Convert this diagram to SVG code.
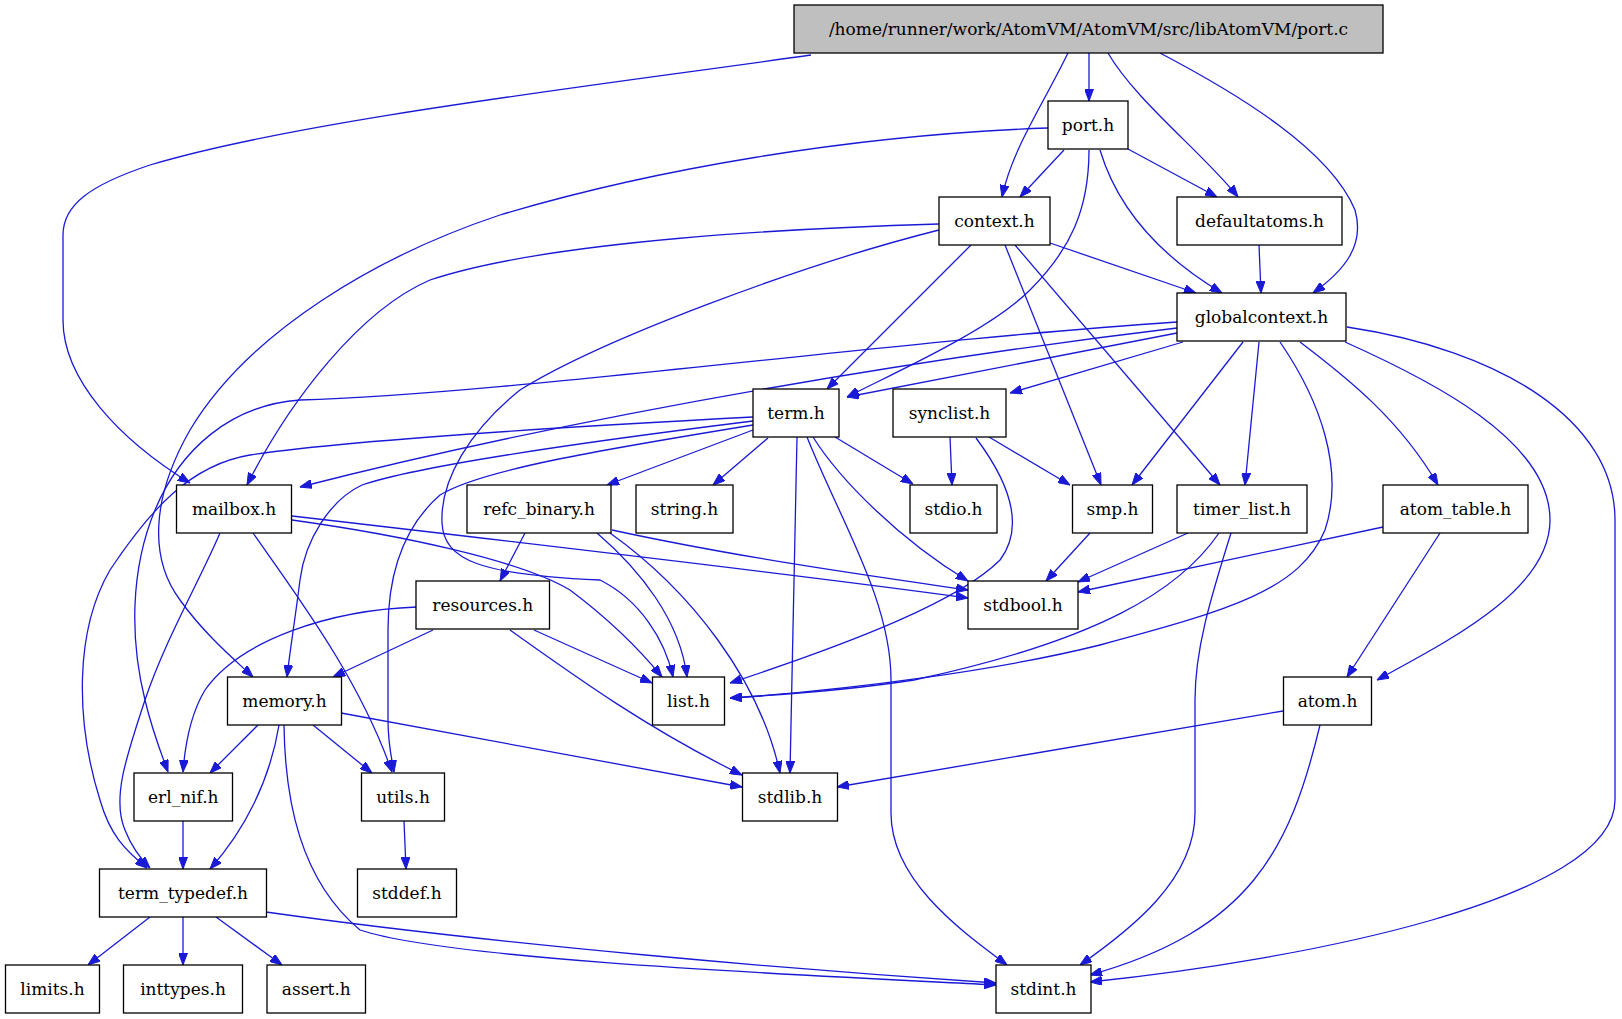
<svg xmlns="http://www.w3.org/2000/svg" width="1622" height="1019" viewBox="0 0 1622 1019">
<style>
.n rect{fill:#fff;stroke:#000;stroke-width:1.3}
.n text{font-family:"DejaVu Serif",serif;font-size:17px;text-anchor:middle;fill:#000}
.e path{fill:none;stroke:#1a1ad6;stroke-width:1.3;marker-end:url(#a)}
</style>
<defs>
<marker id="a" markerWidth="12" markerHeight="9" refX="12" refY="4.5" orient="auto" markerUnits="userSpaceOnUse"><path d="M0,0 L12,4.5 L0,9 z" fill="#1a1ad6" stroke="#1a1ad6" stroke-width="1"/></marker>
</defs>
<rect width="1622" height="1019" fill="#fff"/>
<g id="edges" class="e">
<path d="M811,55 C600,85 300,120 150,165 C90,185 63,205 63,235 L63,320 C63,380 120,440 190,483"/>
<path d="M1068,53 C1040,110 1012,150 1002,197"/>
<path d="M1089,53 L1089,101"/>
<path d="M1108,53 C1135,100 1205,155 1238,197"/>
<path d="M1160,53 C1240,95 1330,150 1355,210 C1365,245 1345,270 1313,293"/>
<path d="M1064,150 L1020,197"/>
<path d="M1128,149 L1217,197"/>
<path d="M1100,150 C1115,200 1150,250 1222,293"/>
<path d="M1089,150 C1089,210 1070,250 1030,290 C990,330 900,370 847,397"/>
<path d="M1048,128 C850,135 650,170 500,215 C380,255 250,330 190,430 C150,500 150,560 180,600 C205,635 235,660 253,677"/>
<path d="M939,224 C800,228 550,240 430,280 C360,310 290,400 247,485"/>
<path d="M939,230 C800,265 600,340 520,390 C470,430 440,480 442,523 C444,560 480,575 600,580 C640,600 665,640 673,677"/>
<path d="M971,245 L827,389"/>
<path d="M1005,245 L1101,485"/>
<path d="M1015,245 L1220,485"/>
<path d="M1050,243 L1196,293"/>
<path d="M1259,245 L1261,293"/>
<path d="M1177,322 C900,340 500,395 300,400 C230,405 180,450 155,510 C130,570 130,640 145,700 C152,730 160,750 168,772"/>
<path d="M1177,328 C950,355 600,410 300,487"/>
<path d="M1177,333 L847,397"/>
<path d="M1183,342 L1010,393"/>
<path d="M1243,342 L1132,485"/>
<path d="M1259,342 L1245,485"/>
<path d="M1280,342 C1320,400 1345,470 1325,530 C1300,590 1230,610 1100,645 C1000,670 850,690 730,698"/>
<path d="M1300,342 C1350,380 1400,420 1438,485"/>
<path d="M1345,342 C1430,380 1550,440 1550,520 C1550,590 1450,640 1377,680"/>
<path d="M1347,327 C1500,350 1615,420 1615,520 L1615,800 C1615,900 1300,960 1090,982"/>
<path d="M753,417 C600,425 350,440 250,455 C190,465 150,510 110,570 C75,630 75,720 100,800 C110,835 125,850 147,868"/>
<path d="M753,421 C600,440 420,465 362,485 C330,500 305,540 300,580 C295,620 290,650 287,677"/>
<path d="M753,425 C600,450 480,470 440,495 C400,530 388,580 388,630 L388,720 C388,745 392,760 394,772"/>
<path d="M753,430 L607,485"/>
<path d="M768,438 L713,485"/>
<path d="M835,437 L913,484"/>
<path d="M813,437 C840,480 900,540 968,581"/>
<path d="M797,437 L790,773"/>
<path d="M807,437 C840,520 891,600 891,680 L891,813 C891,880 960,930 1007,965"/>
<path d="M950,437 L952,485"/>
<path d="M989,437 L1070,485"/>
<path d="M976,438 C1000,470 1030,520 1000,560 C960,600 860,640 730,683"/>
<path d="M292,520 C400,535 520,560 570,590 C610,620 640,650 662,677"/>
<path d="M292,516 C500,540 800,575 968,598"/>
<path d="M220,533 C200,580 165,640 145,700 C125,760 112,800 125,830 C132,848 140,858 150,868"/>
<path d="M253,533 C300,600 360,680 392,772"/>
<path d="M525,533 L500,581"/>
<path d="M597,533 C640,570 680,620 687,677"/>
<path d="M610,533 C690,590 760,680 780,773"/>
<path d="M612,530 C750,560 900,580 968,590"/>
<path d="M433,630 L333,677"/>
<path d="M417,607 C330,610 240,640 205,690 C190,715 185,745 183,772"/>
<path d="M534,630 L652,683"/>
<path d="M510,630 C580,680 650,730 742,775"/>
<path d="M1090,533 L1046,581"/>
<path d="M1188,533 L1078,582"/>
<path d="M1219,533 C1180,590 1100,640 914,680 C850,690 780,695 730,698"/>
<path d="M1231,533 C1210,600 1195,650 1195,700 L1195,813 C1195,880 1130,930 1080,965"/>
<path d="M1383,527 L1078,592"/>
<path d="M1440,533 L1347,677"/>
<path d="M1283,711 L837,787"/>
<path d="M1320,725 C1290,850 1250,930 1090,975"/>
<path d="M258,725 L210,773"/>
<path d="M279,725 C270,780 245,830 210,869"/>
<path d="M313,725 L372,773"/>
<path d="M341,713 L742,787"/>
<path d="M284,725 C285,800 300,880 360,930 C450,960 800,975 996,985"/>
<path d="M183,821 L183,869"/>
<path d="M404,821 L406,869"/>
<path d="M150,917 L88,965"/>
<path d="M183,917 L183,965"/>
<path d="M216,917 L282,965"/>
<path d="M266,912 C500,945 800,970 996,983"/>
</g>
<g id="port_c" class="n"><rect x="794" y="5" width="589" height="48" style="fill:#bfbfbf"/><text x="1088.5" y="34.7">/home/runner/work/AtomVM/AtomVM/src/libAtomVM/port.c</text></g>
<g id="port_h" class="n"><rect x="1048" y="101" width="80" height="48"/><text x="1088" y="130.7">port.h</text></g>
<g id="context_h" class="n"><rect x="939" y="197" width="111" height="48"/><text x="994.5" y="226.7">context.h</text></g>
<g id="defaultatoms_h" class="n"><rect x="1177" y="197" width="165" height="48"/><text x="1259.5" y="226.7">defaultatoms.h</text></g>
<g id="globalcontext_h" class="n"><rect x="1177" y="293" width="169" height="48"/><text x="1261.5" y="322.7">globalcontext.h</text></g>
<g id="term_h" class="n"><rect x="753" y="389" width="86" height="48"/><text x="796" y="418.7">term.h</text></g>
<g id="synclist_h" class="n"><rect x="893" y="389" width="113" height="48"/><text x="949.5" y="418.7">synclist.h</text></g>
<g id="mailbox_h" class="n"><rect x="176.5" y="485" width="115" height="48"/><text x="234" y="514.7">mailbox.h</text></g>
<g id="refc_binary_h" class="n"><rect x="467" y="485" width="144" height="48"/><text x="539" y="514.7">refc_binary.h</text></g>
<g id="string_h" class="n"><rect x="636" y="485" width="97" height="48"/><text x="684.5" y="514.7">string.h</text></g>
<g id="stdio_h" class="n"><rect x="910" y="485" width="87" height="48"/><text x="953.5" y="514.7">stdio.h</text></g>
<g id="smp_h" class="n"><rect x="1072.5" y="485" width="80" height="48"/><text x="1112.5" y="514.7">smp.h</text></g>
<g id="timer_list_h" class="n"><rect x="1177" y="485" width="130" height="48"/><text x="1242" y="514.7">timer_list.h</text></g>
<g id="atom_table_h" class="n"><rect x="1383" y="485" width="145" height="48"/><text x="1455.5" y="514.7">atom_table.h</text></g>
<g id="resources_h" class="n"><rect x="416" y="581" width="133.5" height="48"/><text x="482.8" y="610.7">resources.h</text></g>
<g id="stdbool_h" class="n"><rect x="968" y="581" width="110" height="48"/><text x="1023" y="610.7">stdbool.h</text></g>
<g id="memory_h" class="n"><rect x="227.5" y="677" width="114" height="48"/><text x="284.5" y="706.7">memory.h</text></g>
<g id="list_h" class="n"><rect x="652.5" y="677" width="72" height="48"/><text x="688.5" y="706.7">list.h</text></g>
<g id="atom_h" class="n"><rect x="1283.5" y="677" width="88" height="48"/><text x="1327.5" y="706.7">atom.h</text></g>
<g id="erl_nif_h" class="n"><rect x="134" y="773" width="98.5" height="48"/><text x="183.3" y="802.7">erl_nif.h</text></g>
<g id="utils_h" class="n"><rect x="361.5" y="773" width="83" height="48"/><text x="403" y="802.7">utils.h</text></g>
<g id="stdlib_h" class="n"><rect x="742.5" y="773" width="95" height="48"/><text x="790" y="802.7">stdlib.h</text></g>
<g id="term_typedef_h" class="n"><rect x="99.5" y="869" width="167" height="48"/><text x="183" y="898.7">term_typedef.h</text></g>
<g id="stddef_h" class="n"><rect x="357.5" y="869" width="99" height="48"/><text x="407" y="898.7">stddef.h</text></g>
<g id="limits_h" class="n"><rect x="5.5" y="965" width="94" height="48"/><text x="52.5" y="994.7">limits.h</text></g>
<g id="inttypes_h" class="n"><rect x="123.5" y="965" width="119" height="48"/><text x="183" y="994.7">inttypes.h</text></g>
<g id="assert_h" class="n"><rect x="267" y="965" width="98.5" height="48"/><text x="316.3" y="994.7">assert.h</text></g>
<g id="stdint_h" class="n"><rect x="996" y="965" width="95" height="48"/><text x="1043.5" y="994.7">stdint.h</text></g>
</svg>
